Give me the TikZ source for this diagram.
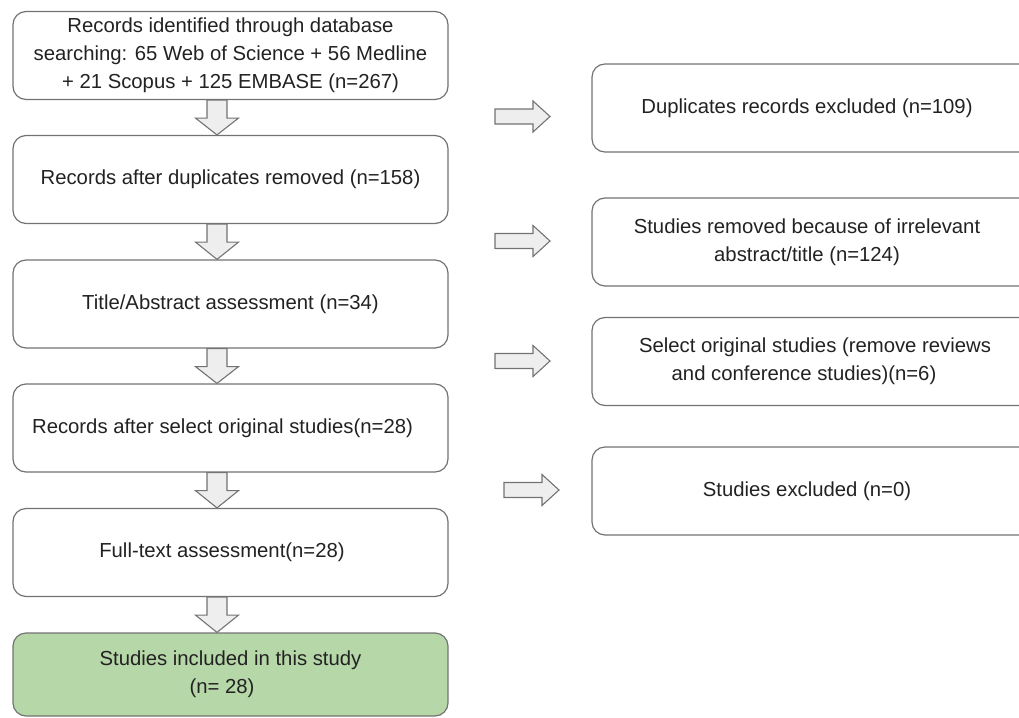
\documentclass[tikz,border=0pt]{standalone}
\usepackage{fontspec}
\setmainfont{Liberation Sans}
\usetikzlibrary{calc}
\definecolor{edge}{HTML}{737373}
\definecolor{arrowfill}{HTML}{EEEEEE}
\definecolor{greenfill}{HTML}{B6D7A8}
\definecolor{txt}{HTML}{222222}
\newcommand\downblock[2]{\path[barrow] let \p1=(#1.south), \p2=(#2.north) in
  (\x1-23.5pt,\y1) -- (\x1-23.5pt,\y1-18pt) -- (\x1-35pt,\y1-18pt) -- (\x1-13.5pt,\y2)
  -- (\x1+8pt,\y1-18pt) -- (\x1-3.5pt,\y1-18pt) -- (\x1-3.5pt,\y1) -- cycle;}
\newcommand\rpad{\hspace*{24pt}}
\begin{document}
\begin{tikzpicture}[x=1pt,y=-1pt,
  box/.style={draw=edge, line width=1.2pt, rounded corners=13pt, fill=white,
    minimum width=435pt, minimum height=88pt, inner sep=0pt, align=center,
    font=\fontsize{20.3}{28}\selectfont, text=txt},
  rbox/.style={box, minimum width=454pt},
  barrow/.style={draw=edge, line width=1.1pt, fill=arrowfill, line join=miter},
  rarrow/.pic={\path[barrow] (0,-7.5) -- (38,-7.5) -- (38,-15.5) -- (55,0) -- (38,15.5) -- (38,7.5) -- (0,7.5) -- cycle;}]
\useasboundingbox (0,0) rectangle (1019,717);
\clip (0,0) rectangle (1019,717);
% left column
\node[box] (b1) at (230.5,55.5) {Records identified through database\\searching: 65 Web of Science + 56 Medline\\+ 21 Scopus + 125 EMBASE (n=267)};
\node[box] (b2) at (230.5,179.5) {Records after duplicates removed (n=158)};
\node[box] (b3) at (230.5,304) {Title/Abstract assessment (n=34)};
\node[box] (b4) at (230.5,428) {Records after select original studies(n=28)\hspace*{16pt}};
\node[box] (b5) at (230.5,552.5) {Full-text assessment(n=28)\hspace*{17pt}};
\node[box, fill=greenfill, minimum height=83pt] (b6) at (230.5,674.5) {Studies included in this study\\(n= 28)\hspace*{17pt}};
% right column (boxes run past the right edge)
\node[rbox] (r1) at (819,108) {Duplicates records excluded (n=109)\rpad};
\node[rbox] (r2) at (819,242) {Studies removed because of irrelevant\rpad\\abstract/title (n=124)\rpad};
\node[rbox] (r3) at (819,361.5) {\hspace*{16pt}Select original studies (remove reviews\rpad\\and conference studies)(n=6)\hspace*{6pt}\rpad};
\node[rbox] (r4) at (819,491) {Studies excluded (n=0)\rpad};
% down block arrows
\downblock{b1}{b2}
\downblock{b2}{b3}
\downblock{b3}{b4}
\downblock{b4}{b5}
\downblock{b5}{b6}
% right block arrows
\pic at (495,116.5) {rarrow};
\pic at (495,241) {rarrow};
\pic at (495,361) {rarrow};
\pic at (504,490) {rarrow};
\end{tikzpicture}
\end{document}
